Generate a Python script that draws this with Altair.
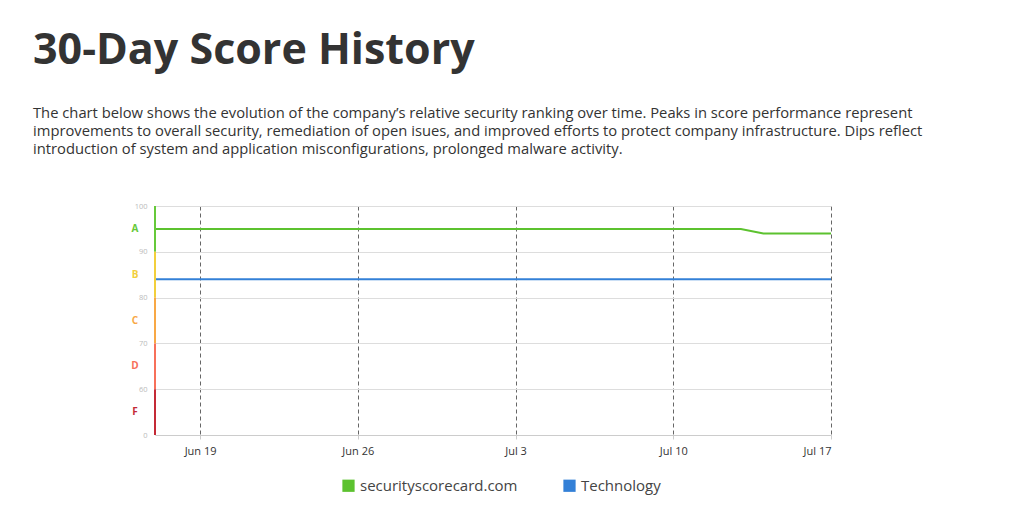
import altair as alt
import pandas as pd

# ---- data ----
dates = pd.date_range("2017-06-17", "2017-07-17", freq="D").strftime("%Y-%m-%d").tolist()
company_scores = [95] * 27 + [94] * 4
industry_scores = [84] * 31

grade_letters = ["A", "B", "C", "D", "F"]
grade_low = [90, 80, 70, 60, 0]
grade_high = [100, 90, 80, 70, 60]
grade_mid = [95, 85, 75, 65, 30]
grade_colors = ["#66c93a", "#f2cf3c", "#f8a845", "#f7705a", "#c42a36"]

y_ticks = [0, 60, 70, 80, 90, 100]
x_ticks = ["2017-06-19", "2017-06-26", "2017-07-03", "2017-07-10", "2017-07-17"]

series_names = ["securityscorecard.com", "Technology"]
series_colors = ["#5cc22f", "#3380d7"]

desc = [
    "The chart below shows the evolution of the company\u2019s relative security ranking over time. Peaks in score performance represent",
    "improvements to overall security, remediation of open isues, and improved efforts to protect company infrastructure. Dips reflect",
    "introduction of system and application misconfigurations, prolonged malware activity.",
]

W, H = 676, 229

line_df = pd.DataFrame({
    "date": dates * 2,
    "score": company_scores + industry_scores,
    "series": [series_names[0]] * len(dates) + [series_names[1]] * len(dates),
})
band_df = pd.DataFrame({
    "grade": grade_letters, "low": grade_low, "high": grade_high,
    "mid": grade_mid, "color": grade_colors,
})

y_scale = alt.Scale(domain=[0, 60, 100], range=[H, H * 4 / 5, 0], nice=False, zero=False)
x_scale = alt.Scale(domain=["2017-06-17", "2017-07-17"], nice=False)
color_scale = alt.Scale(domain=series_names, range=series_colors)

series_legend = alt.Legend(title=None, orient="none", direction="horizontal",
                           legendX=186, legendY=272,
                           symbolType="square", symbolSize=150, symbolStrokeWidth=0,
                           symbolOpacity=1, labelFontSize=15, labelColor="#444",
                           labelFont="Open Sans", columnPadding=44)

legend_layer = alt.Chart(line_df).mark_square(filled=True, size=0).encode(
    x=alt.X("date:T", scale=x_scale),
    y=alt.Y("score:Q", scale=y_scale),
    color=alt.Color("series:N", scale=color_scale, legend=series_legend),
)

lines = alt.Chart(line_df).mark_line(strokeWidth=2).encode(
    x=alt.X("date:T", scale=x_scale, title=None,
            axis=alt.Axis(values=x_ticks, format="%b %-d", labelFontSize=11, labelColor="#333",
                          labelFont="Open Sans", labelPadding=6, tickSize=4, tickColor="#ccc",
                          domainColor="#ccc", grid=True, gridDash=[4, 3], gridColor="#666",
                          gridWidth=1)),
    y=alt.Y("score:Q", scale=y_scale, title=None,
            axis=alt.Axis(values=y_ticks, labelFontSize=7.5, labelColor="#bbb", labelFont="Open Sans",
                          ticks=False, domain=False, gridColor="#ddd", labelPadding=8)),
    color=alt.Color("series:N", scale=color_scale),
)

bands = alt.Chart(band_df).mark_rule(strokeWidth=2).encode(
    x=alt.value(0),
    y=alt.Y("low:Q", scale=y_scale),
    y2="high:Q",
    color=alt.Color("color:N", scale=None),
)

letters = alt.Chart(band_df).mark_text(fontSize=10, fontWeight="bold", font="Open Sans", align="center").encode(
    x=alt.value(-20),
    y=alt.Y("mid:Q", scale=y_scale),
    text="grade:N",
    color=alt.Color("color:N", scale=None),
)

chart = alt.layer(legend_layer, lines, bands, letters).properties(
    width=W,
    height=H,
    padding={"left": 25, "top": 22, "right": 20, "bottom": 10},
    title=alt.TitleParams(
        text="30-Day Score History",
        subtitle=desc,
        anchor="start",
        frame="group",
        dx=-122,
        font="Open Sans",
        fontSize=43,
        fontWeight="bold",
        color="#333",
        subtitleFont="Open Sans",
        subtitleFontSize=14.75,
        subtitleColor="#333",
        subtitleLineHeight=18,
        subtitlePadding=33,
        offset=45,
    ),
).configure_view(stroke=None)

chart.save("out.html", embed_options={"renderer": "svg", "actions": False})
